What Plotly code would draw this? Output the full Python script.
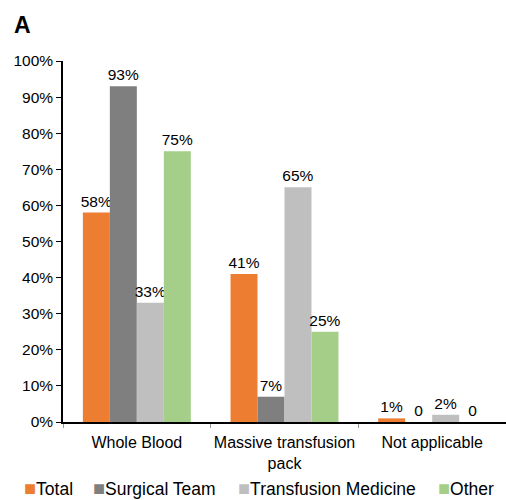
import plotly.graph_objects as go

categories = ["Whole Blood", "Massive transfusion<br>pack", "Not applicable"]
series_names = ["Total", "Surgical Team", "Transfusion Medicine", "Other"]
total = [58, 41, 1]
surgical = [93, 7, 0]
transfusion = [33, 65, 2]
other = [75, 25, 0]
colors = ["#ED7D31", "#7F7F7F", "#BFBFBF", "#A5CF88"]

FONT = "Liberation Sans, Arial, sans-serif"

fig = go.Figure()
for name, vals, col in zip(series_names, [total, surgical, transfusion, other], colors):
    fig.add_trace(go.Bar(
        x=categories, y=[v / 100 for v in vals], name=name, marker_color=col,
        marker_line_width=0,
        text=[("0" if v == 0 else f"{v}%") for v in vals],
        textposition="outside", cliponaxis=False, constraintext="none",
        textfont=dict(size=15.5, color="black", family=FONT),
    ))

fig.update_layout(
    width=506, height=500,
    margin=dict(l=63, r=0, t=61, b=78, autoexpand=False),
    paper_bgcolor="white", plot_bgcolor="white",
    font=dict(family=FONT, size=15.5, color="black"),
    barmode="group", bargap=0.269, bargroupgap=0,
    showlegend=False,
)

# Legend drawn as text entries in one row (as in the reference)
legend_x_px = [22, 91, 236, 436]
for name, col, px in zip(series_names, colors, legend_x_px):
    fig.add_annotation(
        text=f"<span style='color:{col};font-size:20px'>■</span>{name}",
        xref="paper", yref="paper", x=(px - 63) / 443, y=(422 - 488) / 361,
        xanchor="left", yanchor="middle", showarrow=False,
        font=dict(size=17.5, family=FONT, color="black"),
    )

fig.add_annotation(text="<b>A</b>", xref="paper", yref="paper",
                   x=(12 - 63) / 443, y=(422 - 25) / 361,
                   xanchor="left", yanchor="middle", showarrow=False,
                   font=dict(size=23, family=FONT))
fig.update_yaxes(range=[0, 1], dtick=0.1, tickformat=".0%", showgrid=False,
                 showline=True, linecolor="black", linewidth=1.5,
                 ticks="outside", ticklen=5, tickcolor="black", zeroline=False)
fig.update_xaxes(showgrid=False, showline=True, linecolor="black", linewidth=1.5,
                 ticks="outside", tickson="boundaries", ticklen=4, tickcolor="#999999",
                 tickfont=dict(size=16), tickangle=0, ticklabelstandoff=5)
fig.write_html("out.html")
